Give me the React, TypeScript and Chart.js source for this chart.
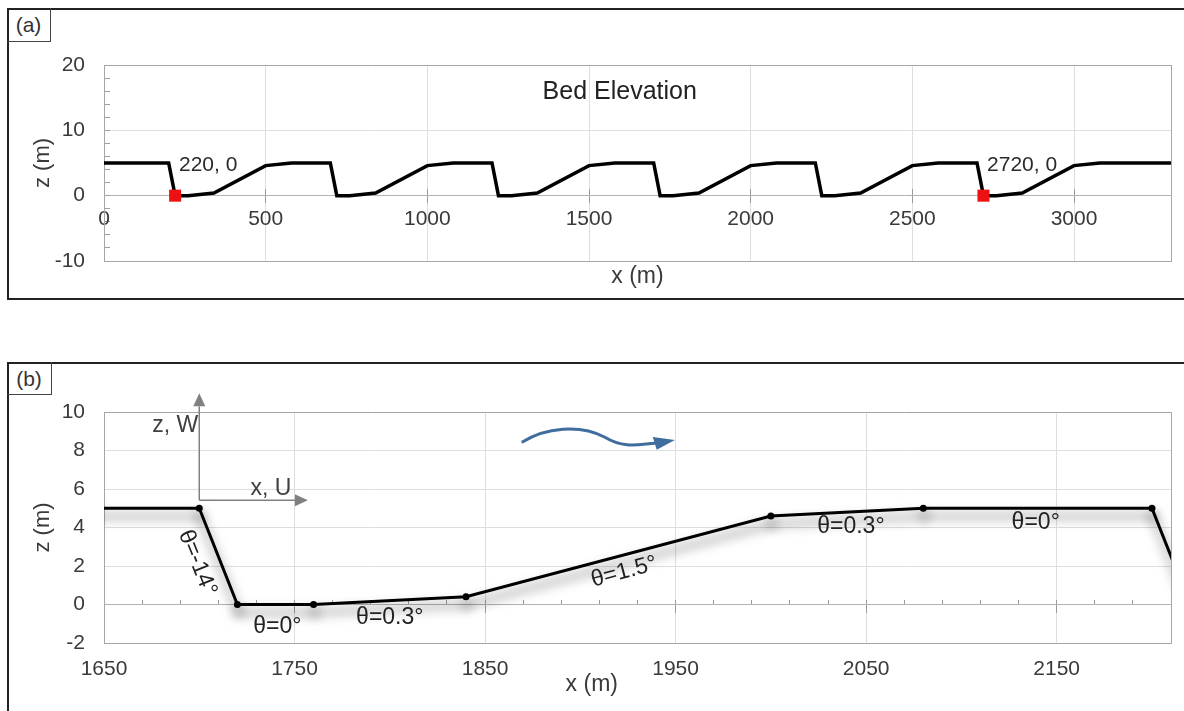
import React, { useEffect, useRef } from 'react';
import { Chart, registerables } from 'chart.js';

Chart.register(...registerables);

const FONT = '"Liberation Sans", Arial, Helvetica, sans-serif';
const TICK_COLOR = '#3a3a3a';
const TEXT_COLOR = '#222222';
const AXIS_GRAY = '#a6a6a6';
const ZERO_GRAY = '#b2b2b2';
const GRID_GRAY = '#dedede';
const NONE = 'rgba(0,0,0,0)';

// ---------- Panel (a): full bed profile ----------
const bedX = [0, 200, 220, 260, 340, 500, 580, 700, 720, 760, 840, 1000, 1080, 1200, 1220, 1260, 1340, 1500, 1580, 1700, 1720, 1760, 1840, 2000, 2080, 2200, 2220, 2260, 2340, 2500, 2580, 2700, 2720, 2760, 2840, 3000, 3080, 3300];
const bedZ = [5, 5, 0, 0, 0.4, 4.6, 5, 5, 0, 0, 0.4, 4.6, 5, 5, 0, 0, 0.4, 4.6, 5, 5, 0, 0, 0.4, 4.6, 5, 5, 0, 0, 0.4, 4.6, 5, 5, 0, 0, 0.4, 4.6, 5, 5];
const markX = [220, 2720];
const markZ = [0, 0];
const markText = ['220, 0', '2720, 0'];
const markTextX = [232, 2731];
const markTextZ = [4.7, 4.7];
const aXTicks = [0, 500, 1000, 1500, 2000, 2500, 3000];
const aYTicks = [-10, -8, -6, -4, -2, 0, 2, 4, 6, 8, 10, 12, 14, 16, 18, 20];
const aYLabelled = [-10, 0, 10, 20];
const aTitleText = 'Bed Elevation';
const aTitleX = 1595;
const aTitleZ = 15.9;

// ---------- Panel (b): one bedform ----------
const zoomX = [1580, 1700, 1720, 1760, 1840, 2000, 2080, 2200, 2220];
const zoomZ = [5, 5, 0, 0, 0.4, 4.6, 5, 5, 0];
const bXTicks = [1650, 1750, 1850, 1950, 2050, 2150];
const bXMinor = [1650, 1670, 1690, 1710, 1730, 1750, 1770, 1790, 1810, 1830, 1850, 1870, 1890, 1910, 1930, 1950, 1970, 1990, 2010, 2030, 2050, 2070, 2090, 2110, 2130, 2150, 2170, 2190, 2210];
const bYTicks = [-2, 0, 2, 4, 6, 8, 10];
const slopeText = ['θ=-14°', 'θ=0°', 'θ=0.3°', 'θ=1.5°', 'θ=0.3°', 'θ=0°'];
const slopeX = [1699, 1741, 1800, 1923, 2042, 2139];
const slopeZ = [2.16, -1.16, -0.67, 1.69, 4.05, 4.23];
const slopeRot = [68, 0, 0, -15, 0, 0];
const frameOrigin = [1700, 5.42];
const frameZTip = 10.97;
const frameXTip = 1757;
const flowX = [1869.8, 1881.4, 1899.7, 1912.9, 1923.3, 1931.2, 1939.1];
const flowZ = [8.45, 9.18, 9.39, 8.69, 8.07, 8.33, 8.38];
const flowHeadX = [1949.6, 1938, 1940.1];
const flowHeadZ = [8.54, 8.7, 8.04];

type Note = { text: string; x: number; y: number; rot?: number; align?: CanvasTextAlign; size?: number; color?: string };

const notesA: Note[] = [
  { text: aTitleText, x: aTitleX, y: aTitleZ, size: 25, color: TEXT_COLOR },
  ...markText.map((t, i) => ({ text: t, x: markTextX[i], y: markTextZ[i], align: 'left' as CanvasTextAlign, size: 21, color: '#2a2a2a' })),
];

const notesB: Note[] = [
  ...slopeText.map((t, i) => ({ text: t, x: slopeX[i], y: slopeZ[i], rot: slopeRot[i], size: 23, color: TEXT_COLOR })),
  { text: 'z, W', x: 1699.5, y: 9.27, align: 'right', size: 23, color: '#404040' },
  { text: 'x, U', x: 1737.6, y: 6.0, size: 23, color: '#404040' },
  { text: 'x (m)', x: 1906, y: -4.17, size: 23, color: TICK_COLOR },
];

const notesPlugin = (id: string, notes: Note[]) => ({
  id,
  afterDraw(chart: any) {
    const { ctx, scales } = chart;
    notes.forEach((n) => {
      const px = scales.x.getPixelForValue(n.x);
      const py = scales.y.getPixelForValue(n.y);
      ctx.save();
      ctx.translate(px, py);
      ctx.rotate(((n.rot || 0) * Math.PI) / 180);
      ctx.font = `${n.size || 21}px ${FONT}`;
      ctx.fillStyle = n.color || TEXT_COLOR;
      ctx.textAlign = n.align || 'center';
      ctx.textBaseline = 'middle';
      ctx.fillText(n.text, 0, 0);
      ctx.restore();
    });
  },
});

function drawArrow(ctx: CanvasRenderingContext2D, x0: number, y0: number, x1: number, y1: number, color: string) {
  const a = Math.atan2(y1 - y0, x1 - x0);
  const len = 13;
  const half = 6;
  const bx = x1 - len * Math.cos(a);
  const by = y1 - len * Math.sin(a);
  ctx.strokeStyle = color;
  ctx.lineWidth = 1.5;
  ctx.beginPath();
  ctx.moveTo(x0, y0);
  ctx.lineTo(bx, by);
  ctx.stroke();
  ctx.fillStyle = color;
  ctx.beginPath();
  ctx.moveTo(x1, y1);
  ctx.lineTo(bx - half * Math.sin(a), by + half * Math.cos(a));
  ctx.lineTo(bx + half * Math.sin(a), by - half * Math.cos(a));
  ctx.closePath();
  ctx.fill();
}

const arrowsPlugin = {
  id: 'arrowsB',
  beforeDatasetsDraw(chart: any) {
    const { ctx, scales } = chart;
    const X = (v: number) => scales.x.getPixelForValue(v);
    const Y = (v: number) => scales.y.getPixelForValue(v);
    ctx.save();
    const ox = X(frameOrigin[0]);
    const oy = Y(frameOrigin[1]);
    drawArrow(ctx, ox, oy, ox, Y(frameZTip), '#808080');
    drawArrow(ctx, ox, oy, X(frameXTip), oy, '#808080');
    // flow arrow
    ctx.strokeStyle = '#3f6d9d';
    ctx.lineWidth = 3;
    ctx.lineCap = 'round';
    ctx.beginPath();
    ctx.moveTo(X(flowX[0]), Y(flowZ[0]));
    ctx.bezierCurveTo(X(flowX[1]), Y(flowZ[1]), X(flowX[2]), Y(flowZ[2]), X(flowX[3]), Y(flowZ[3]));
    ctx.bezierCurveTo(X(flowX[4]), Y(flowZ[4]), X(flowX[5]), Y(flowZ[5]), X(flowX[6]), Y(flowZ[6]));
    ctx.stroke();
    ctx.fillStyle = '#3f6d9d';
    ctx.beginPath();
    ctx.moveTo(X(flowHeadX[0]), Y(flowHeadZ[0]));
    ctx.lineTo(X(flowHeadX[1]), Y(flowHeadZ[1]));
    ctx.lineTo(X(flowHeadX[2]), Y(flowHeadZ[2]));
    ctx.closePath();
    ctx.fill();
    ctx.restore();
  },
};

const shadowPlugin = {
  id: 'lineShadow',
  beforeDatasetDraw(chart: any) {
    const c = chart.ctx;
    c.save();
    c.shadowColor = 'rgba(0,0,0,0.6)';
    c.shadowBlur = 12;
    c.shadowOffsetX = 1;
    c.shadowOffsetY = 8;
  },
  afterDatasetDraw(chart: any) {
    chart.ctx.restore();
  },
};

const tickFont = { size: 21, family: FONT };
const plain = (v: any) => String(v);

function makeConfigA(): any {
  return {
    type: 'line',
    data: {
      datasets: [
        {
          data: markX.map((x, i) => ({ x, y: markZ[i] })),
          showLine: false,
          pointStyle: 'rect',
          pointRadius: 8.5,
          backgroundColor: '#ee1111',
          borderColor: '#ee1111',
          borderWidth: 0,
          order: 1,
        },
        {
          data: bedX.map((x, i) => ({ x, y: bedZ[i] })),
          borderColor: '#000000',
          borderWidth: 3.5,
          pointRadius: 0,
          tension: 0,
          order: 2,
        },
      ],
    },
    options: {
      animation: false,
      responsive: false,
      devicePixelRatio: 1,
      events: [],
      layout: { padding: { left: 30, right: 13, top: 65, bottom: 0 } },
      plugins: { legend: { display: false }, tooltip: { enabled: false } },
      scales: {
        x: {
          type: 'linear',
          position: 'bottom',
          min: 0,
          max: 3300,
          afterBuildTicks: (s: any) => { s.ticks = aXTicks.map((v) => ({ value: v })); },
          ticks: { display: false },
          grid: { color: GRID_GRAY, drawTicks: false },
          border: { color: AXIS_GRAY },
          title: { display: true, text: 'x (m)', font: { size: 23, family: FONT }, color: TICK_COLOR, padding: { top: 0, bottom: 10 } },
          afterFit: (s: any) => { s.height = 39; },
        },
        xz: {
          type: 'linear',
          axis: 'x',
          position: { y: 0 },
          min: 0,
          max: 3300,
          afterBuildTicks: (s: any) => { s.ticks = aXTicks.map((v) => ({ value: v })); },
          ticks: { font: tickFont, color: TICK_COLOR, padding: 4, autoSkip: false, maxRotation: 0, callback: plain },
          grid: { drawOnChartArea: false, drawTicks: true, tickLength: 7, tickColor: '#9a9a9a' },
          border: { display: false },
        },
        xzUp: {
          type: 'linear',
          axis: 'x',
          position: { y: 0 },
          min: 0,
          max: 3300,
          afterBuildTicks: (s: any) => { s.ticks = aXTicks.map((v) => ({ value: v })); },
          ticks: { display: false },
          grid: { drawOnChartArea: false, drawTicks: true, tickLength: -7, tickColor: '#9a9a9a' },
          border: { display: false },
        },
        y: {
          type: 'linear',
          min: -10,
          max: 20,
          afterBuildTicks: (s: any) => { s.ticks = aYTicks.map((v) => ({ value: v })); },
          ticks: {
            callback: (v: any) => (aYLabelled.includes(Number(v)) ? String(v) : ''),
            font: tickFont,
            color: TICK_COLOR,
            padding: 25,
            autoSkip: false,
          },
          grid: {
            color: (c: any) => {
              const v = c.tick ? c.tick.value : null;
              if (v === 20 || v === -10) return AXIS_GRAY;
              if (v === 0) return ZERO_GRAY;
              if (v === 10) return GRID_GRAY;
              return NONE;
            },
            drawTicks: true,
            tickLength: -6,
            tickColor: '#a0a0a0',
          },
          border: { color: AXIS_GRAY },
          title: { display: true, text: 'z (m)', font: { size: 22, family: FONT }, color: TICK_COLOR, padding: 0 },
          afterFit: (s: any) => { s.width = 74; },
        },
        yR: {
          type: 'linear',
          axis: 'y',
          position: 'right',
          ticks: { display: false },
          grid: { display: false },
          border: { display: true, color: AXIS_GRAY },
          afterFit: (s: any) => { s.width = 0; },
        },
      },
    },
    plugins: [notesPlugin('notesA', notesA)],
  };
}

function makeConfigB(): any {
  return {
    type: 'line',
    data: {
      datasets: [
        {
          data: zoomX.map((x, i) => ({ x, y: zoomZ[i] })),
          borderColor: '#000000',
          borderWidth: 3,
          pointRadius: 3.5,
          pointBackgroundColor: '#000000',
          pointBorderWidth: 0,
          tension: 0,
        },
      ],
    },
    options: {
      animation: false,
      responsive: false,
      devicePixelRatio: 1,
      events: [],
      layout: { padding: { left: 30, right: 13, top: 49, bottom: 0 } },
      plugins: { legend: { display: false }, tooltip: { enabled: false } },
      scales: {
        x: {
          type: 'linear',
          position: 'bottom',
          min: 1650,
          max: 2210,
          afterBuildTicks: (s: any) => { s.ticks = bXTicks.map((v) => ({ value: v })); },
          ticks: { font: tickFont, color: TICK_COLOR, padding: 14, autoSkip: false, maxRotation: 0, callback: plain },
          grid: { color: (c: any) => (c.tick && c.tick.value === 1650 ? AXIS_GRAY : GRID_GRAY), drawTicks: false },
          border: { color: AXIS_GRAY },
          afterFit: (s: any) => { s.height = 68; },
        },
        xzMinor: {
          type: 'linear',
          axis: 'x',
          position: { y: 0 },
          min: 1650,
          max: 2210,
          afterBuildTicks: (s: any) => { s.ticks = bXMinor.map((v) => ({ value: v })); },
          ticks: { display: false },
          grid: { drawOnChartArea: false, drawTicks: true, tickLength: -5, tickColor: '#9a9a9a' },
          border: { display: false },
        },
        xzMajor: {
          type: 'linear',
          axis: 'x',
          position: { y: 0 },
          min: 1650,
          max: 2210,
          afterBuildTicks: (s: any) => { s.ticks = bXTicks.map((v) => ({ value: v })); },
          ticks: { display: false },
          grid: { drawOnChartArea: false, drawTicks: true, tickLength: 8, tickColor: '#9a9a9a' },
          border: { display: false },
        },
        y: {
          type: 'linear',
          min: -2,
          max: 10,
          afterBuildTicks: (s: any) => { s.ticks = bYTicks.map((v) => ({ value: v })); },
          ticks: { font: tickFont, color: TICK_COLOR, padding: 19, autoSkip: false, callback: plain },
          grid: {
            color: (c: any) => {
              const v = c.tick ? c.tick.value : null;
              if (v === 10 || v === -2) return AXIS_GRAY;
              if (v === 0) return ZERO_GRAY;
              return GRID_GRAY;
            },
            drawTicks: false,
          },
          border: { color: AXIS_GRAY },
          title: { display: true, text: 'z (m)', font: { size: 22, family: FONT }, color: TICK_COLOR, padding: 0 },
          afterFit: (s: any) => { s.width = 74; },
        },
        yR: {
          type: 'linear',
          axis: 'y',
          position: 'right',
          ticks: { display: false },
          grid: { display: false },
          border: { display: true, color: AXIS_GRAY },
          afterFit: (s: any) => { s.width = 0; },
        },
      },
    },
    plugins: [arrowsPlugin, shadowPlugin, notesPlugin('notesB', notesB)],
  };
}

function ChartCanvas(props: { make: () => any; top: number; height: number }) {
  const ref = useRef<HTMLCanvasElement | null>(null);
  useEffect(() => {
    if (!ref.current) return;
    const chart = new Chart(ref.current, props.make());
    return () => chart.destroy();
  }, []);
  return (
    <canvas
      ref={ref}
      width={1184}
      height={props.height}
      style={{ position: 'absolute', left: 0, top: props.top, width: 1184, height: props.height, display: 'block' }}
    />
  );
}

function PanelFrame(props: { top: number; height: number; label: string; labelW: number; labelH: number }) {
  return (
    <>
      <div
        style={{
          position: 'absolute',
          left: 7,
          top: props.top,
          width: 1200,
          height: props.height,
          border: '2px solid #222',
          boxSizing: 'border-box',
        }}
      />
      <div
        style={{
          position: 'absolute',
          left: 7,
          top: props.top,
          width: props.labelW,
          height: props.labelH,
          borderRight: '1px solid #444',
          borderBottom: '1px solid #444',
          boxSizing: 'border-box',
          fontFamily: FONT,
          fontSize: 21,
          color: '#333',
          textAlign: 'center',
          lineHeight: `${props.labelH}px`,
        }}
      >
        {props.label}
      </div>
    </>
  );
}

export default function App() {
  return (
    <div
      style={{
        position: 'fixed',
        left: 0,
        top: 0,
        width: 1184,
        height: 711,
        background: '#ffffff',
        overflow: 'hidden',
      }}
    >
      <PanelFrame top={8} height={292} label="(a)" labelW={44} labelH={34} />
      <PanelFrame top={362} height={400} label="(b)" labelW={45} labelH={33} />
      <ChartCanvas make={makeConfigA} top={0} height={300} />
      <ChartCanvas make={makeConfigB} top={363} height={348} />
    </div>
  );
}
